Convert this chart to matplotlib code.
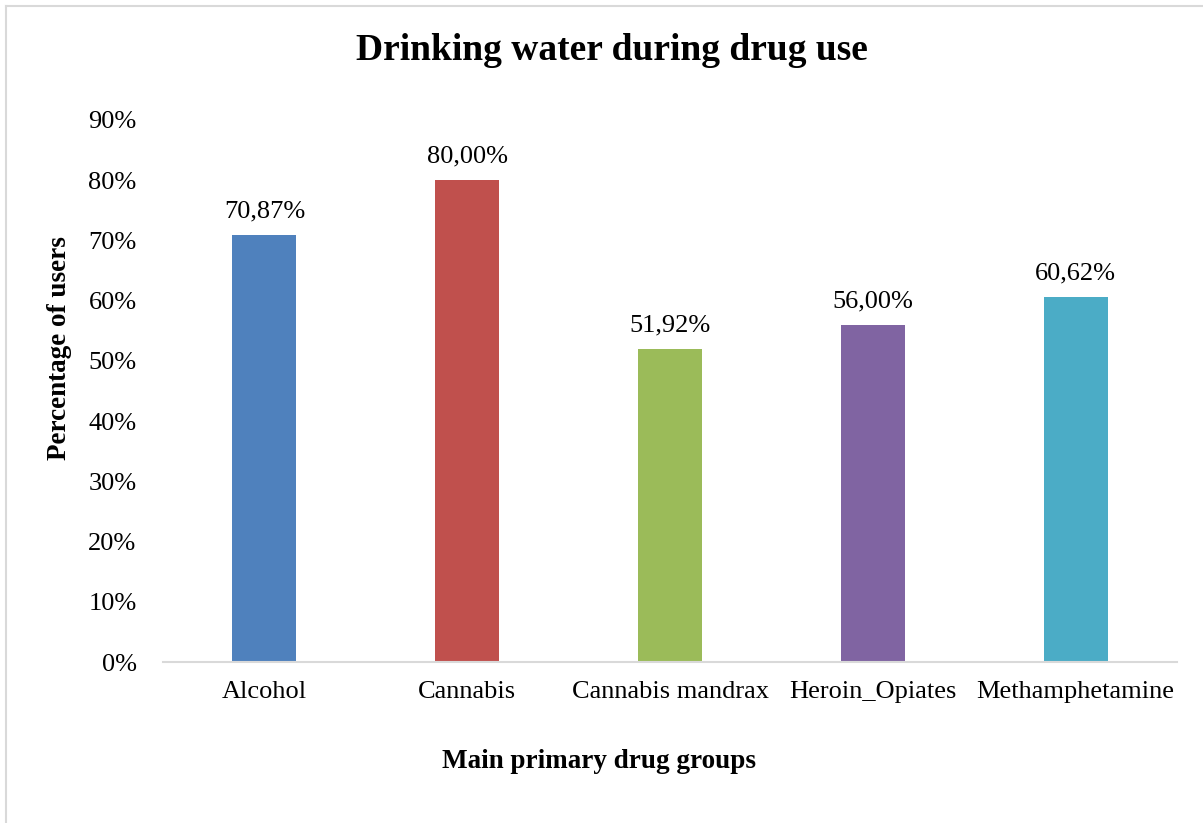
import matplotlib.pyplot as plt
from matplotlib.lines import Line2D

# dados do grafico
categorias = ['Alcohol', 'Cannabis', 'Cannabis mandrax', 'Heroin_Opiates', 'Methamphetamine']
valores = [70.87, 80.00, 51.92, 56.00, 60.62]
rotulos = ['70,87%', '80,00%', '51,92%', '56,00%', '60,62%']
cores = ['#4F81BD', '#C0504D', '#9BBB59', '#8064A2', '#4BACC6']
yticks = [0, 10, 20, 30, 40, 50, 60, 70, 80, 90]

plt.rcParams['font.family'] = ['Liberation Serif', 'DejaVu Serif']

fig = plt.figure(figsize=(12.03, 8.23), dpi=100)
ax = fig.add_axes([0.1355, 0.1956, 0.8429, 0.6586])

x = range(len(categorias))
barras = ax.bar(x, valores, width=0.316, color=cores, zorder=2)

for b, r in zip(barras, rotulos):
  ax.text(b.get_x() + b.get_width() / 2, b.get_height() + 2.1, r,
          ha='center', va='bottom', fontsize=19)

ax.set_xlim(-0.5, 4.5)
ax.set_ylim(0, 90)
ax.set_yticks(yticks)
ax.set_yticklabels([f'{v}%' for v in yticks], fontsize=19)
ax.set_xticks(list(x))
ax.set_xticklabels(categorias, fontsize=19)
ax.tick_params(axis='x', length=0, pad=14)
ax.tick_params(axis='y', length=0, pad=19)

for s in ['top', 'right', 'left']:
  ax.spines[s].set_visible(False)
ax.spines['bottom'].set_color('#D9D9D9')
ax.spines['bottom'].set_linewidth(1.5)

# titulos dos eixos
fig.text(599 / 1203, 1 - 762 / 823, 'Main primary drug groups', ha='center', va='center',
         fontsize=19.5, fontweight='bold')
fig.text(60 / 1203, 1 - 348 / 823, 'Percentage of users', ha='center', va='center',
         rotation=90, fontsize=19.5, fontweight='bold')

fig.text(612 / 1203, 1 - 50 / 823, 'Drinking water during drug use', ha='center', va='center',
         fontsize=27, fontweight='bold')

# borda da figura (esquerda e topo)
fig.add_artist(Line2D([6 / 1203, 6 / 1203], [0, 1 - 6 / 823], color='#D9D9D9', lw=1.5))
fig.add_artist(Line2D([6 / 1203, 1], [1 - 6 / 823, 1 - 6 / 823], color='#D9D9D9', lw=1.5))

fig.savefig('out.png', dpi=100)
